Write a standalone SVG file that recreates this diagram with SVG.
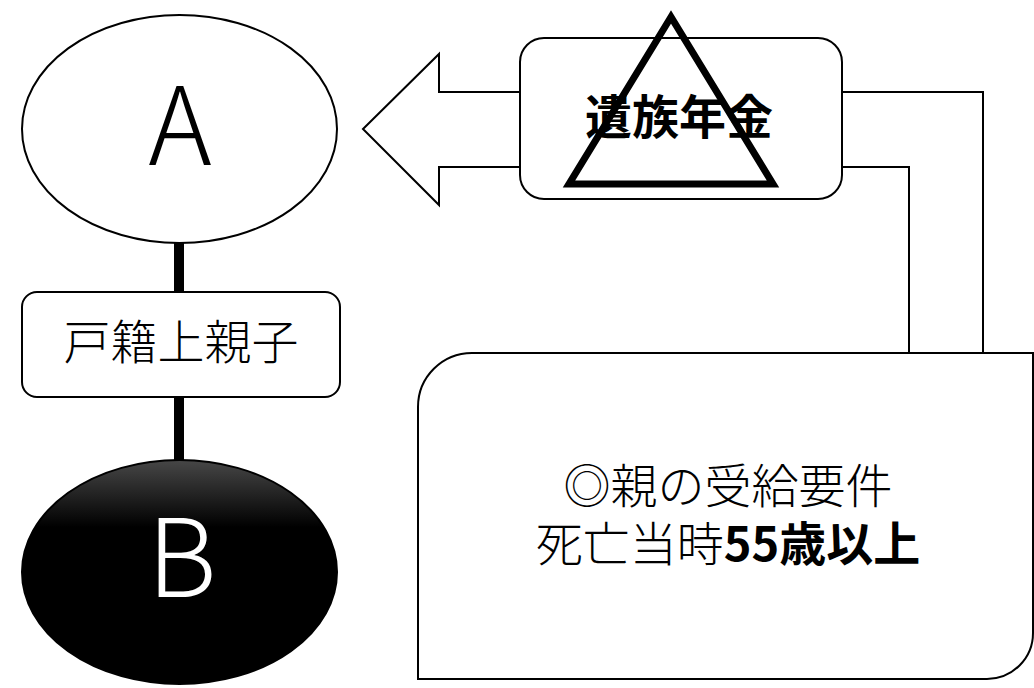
<svg xmlns="http://www.w3.org/2000/svg" width="1034" height="688" viewBox="0 0 1034 688">
  <style>
    .shape { fill: #ffffff; stroke: #000000; stroke-width: 2; }
    .jp { font-family: "Noto Sans CJK JP", "Noto Sans", sans-serif; fill: #000000; }
    .light { font-weight: 300; }
    .bold { font-weight: 700; }
    .conn { stroke: #000000; stroke-width: 10; fill: none; }
  </style>
  <defs>
    <linearGradient id="gradB" x1="0" y1="0" x2="0" y2="1">
      <stop offset="0" stop-color="#474747"/>
      <stop offset="0.3" stop-color="#000000"/>
      <stop offset="1" stop-color="#000000"/>
    </linearGradient>
  </defs>

  <rect width="1034" height="688" fill="#ffffff"/>

  <g id="connectors">
    <line class="conn" x1="179" y1="240" x2="179" y2="294"/>
    <line class="conn" x1="179" y1="395" x2="179" y2="464"/>
    <polygon id="arrow-left" class="shape" points="363,129 439,54 439,92 522,92 522,167 439,167 439,205"/>
    <polygon id="arrow-bend" class="shape" points="840,92 983,92 983,354 909,354 909,167 840,167"/>
  </g>

  <g id="node-A">
    <ellipse class="shape" cx="179.5" cy="129" rx="157.5" ry="114"/>
    <text class="jp light" x="180" y="165" font-size="108" text-anchor="middle">A</text>
  </g>

  <g id="node-koseki">
    <rect class="shape" x="22" y="292" width="318" height="105" rx="15" ry="15"/>
    <text class="jp light" x="181" y="359" font-size="47" text-anchor="middle">戸籍上親子</text>
  </g>

  <g id="node-B">
    <ellipse cx="179.5" cy="572" rx="157.5" ry="112" fill="url(#gradB)" stroke="#000000" stroke-width="2"/>
    <text class="light" x="182" y="597" font-size="108" text-anchor="middle" font-family="Noto Sans CJK JP, Noto Sans, sans-serif" fill="#ffffff">B</text>
  </g>

  <g id="node-izoku">
    <rect class="shape" x="520" y="38" width="322" height="161" rx="24" ry="24"/>
    <text class="jp bold" x="679" y="134" font-size="47" text-anchor="middle">遺族年金</text>
    <polygon points="671,17 569,184 773,184" fill="none" stroke="#000000" stroke-width="7"/>
  </g>

  <g id="node-requirement">
    <path class="shape" d="M418,679 L418,407 A54,54 0 0 1 472,353 L1033,353 L1033,633 A46,46 0 0 1 987,679 Z"/>
    <text class="jp light" font-size="47" text-anchor="middle"><tspan x="728" y="503">◎親の受給要件</tspan><tspan x="728" y="561">死亡当時<tspan class="bold">55歳以上</tspan></tspan></text>
  </g>
</svg>
